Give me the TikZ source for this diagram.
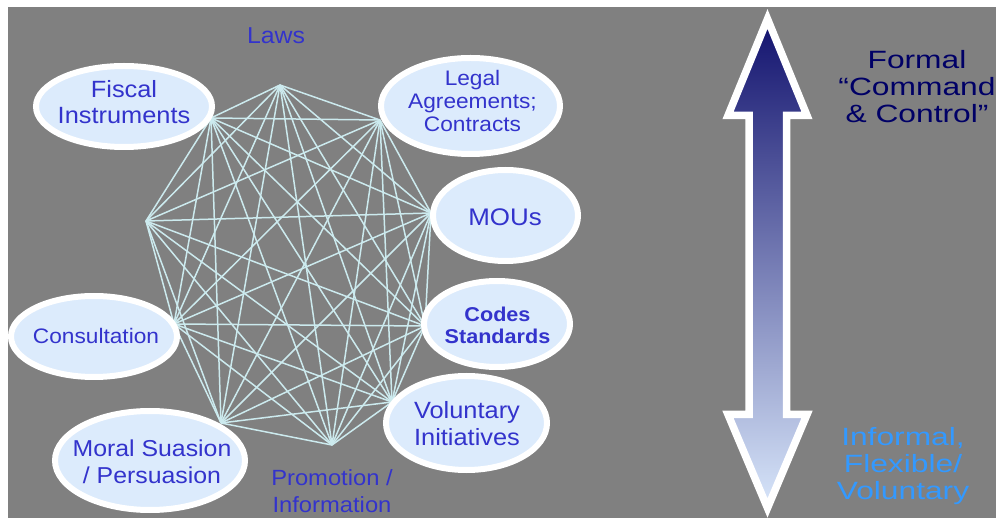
\documentclass[tikz,border=0pt]{standalone}
\usepackage{fontspec}
\setmainfont{Liberation Sans}[FakeStretch=1.08]
\newfontfamily\widefont{Liberation Sans}[FakeStretch=1.27]
\usetikzlibrary{shapes.geometric}
\definecolor{bggray}{HTML}{808080}
\definecolor{tblue}{HTML}{3333CC}
\definecolor{navy}{HTML}{000066}
\definecolor{skyb}{HTML}{3399FF}
\definecolor{efill}{HTML}{DCEBFC}
\definecolor{netc}{HTML}{CCEAEE}
\definecolor{atop}{HTML}{12126E}
\definecolor{abot}{HTML}{D8E6FA}
\tikzset{
  net/.style={draw=netc, line width=1.5pt},
  bubble/.style={ellipse, draw=white, fill=efill, line width=6pt, inner sep=0pt},
  txt/.style={text=tblue, align=center, inner sep=0pt},
  rtxt/.style={align=center, inner sep=0pt, font=\widefont\fontsize{25}{27}\selectfont},
}
\begin{document}
\begin{tikzpicture}[x=1pt,y=-1pt]
\fill[white] (0,0) rectangle (996,518);
\fill[bggray] (8,7) rectangle (996,518);
\useasboundingbox (0,0) rectangle (996,518);

% network vertices
\coordinate (v1) at (280,85);
\coordinate (v2) at (211,118);
\coordinate (v3) at (380,120);
\coordinate (v4) at (146,221);
\coordinate (v5) at (431,213);
\coordinate (v6) at (174,324);
\coordinate (v7) at (425,326);
\coordinate (v8) at (221,423);
\coordinate (v9) at (392,402);
\coordinate (v10) at (332,445);
\foreach \i in {1,...,10}{\foreach \j in {1,...,10}{\ifnum\i<\j \draw[net] (v\i) -- (v\j);\fi}}

% bubbles
\node[bubble, minimum width=176, minimum height=81] (fiscal) at (124,106.5) {};
\node[bubble, minimum width=179, minimum height=96] (legal) at (470.5,106) {};
\node[bubble, minimum width=145, minimum height=91] (mous) at (505.5,215.5) {};
\node[bubble, minimum width=146, minimum height=86] (codes) at (497,324) {};
\node[bubble, minimum width=161, minimum height=94] (volun) at (466.5,423) {};
\node[bubble, minimum width=166, minimum height=81] (consul) at (94,336.5) {};
\node[bubble, minimum width=190, minimum height=99] (moral) at (150,460.5) {};

% texts
\node[txt, font=\fontsize{23}{26}\selectfont] (laws) at (276,36) {Laws};
\node[txt, font=\fontsize{23.5}{26}\selectfont] (fiscalT) at (124,102) {Fiscal\\Instruments};
\node[txt, font=\fontsize{21}{23}\selectfont] (legalT) at (472.5,101) {Legal\\Agreements;\\Contracts};
\node[txt, font=\fontsize{24}{26}\selectfont] (mousT) at (505,217.5) {MOUs};
\node[txt, font=\bfseries\fontsize{20}{22}\selectfont] (codesT) at (497.5,325) {Codes\\Standards};
\node[txt, font=\fontsize{23.5}{27}\selectfont] (volunT) at (467,423.5) {Voluntary\\Initiatives};
\node[txt, font=\fontsize{21}{23}\selectfont] (consulT) at (96,335.5) {Consultation};
\node[txt, font=\fontsize{23}{27}\selectfont] (moralT) at (152,462) {Moral Suasion\\/ Persuasion};
\node[txt, font=\fontsize{22}{27}\selectfont] (promo) at (332,491) {Promotion /\\Information};

% arrow
\shadedraw[top color=atop, bottom color=abot, draw=white, line width=7.5pt, line join=miter]
  (767.5,19) -- (807,115.5) -- (786.5,115.5) -- (786.5,414.5) -- (807,414.5)
  -- (767.5,508) -- (728,414.5) -- (749,414.5) -- (749,115.5) -- (728,115.5) -- cycle;

\node[rtxt, text=navy] (formal) at (917,86.5) {Formal\\“Command\\\& Control”};
\node[rtxt, text=skyb] (informal) at (903,466) {Informal,\\Flexible/\\Voluntary};
\end{tikzpicture}
\end{document}
